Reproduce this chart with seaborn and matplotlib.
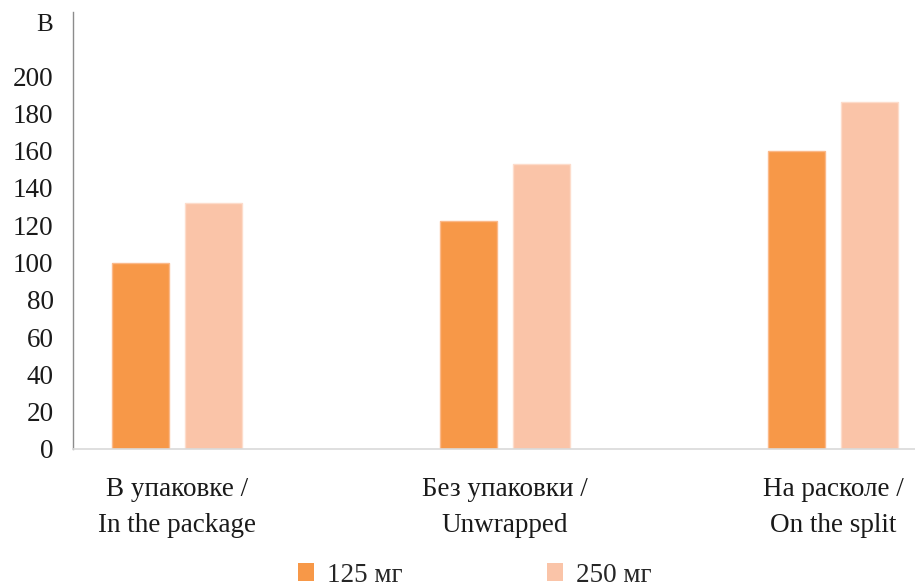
import matplotlib
matplotlib.use("Agg")
import matplotlib.pyplot as plt
import seaborn as sns
import pandas as pd
from matplotlib.patches import Patch

# Storage condition categories (two-line labels) and series values
categories = ["В упаковке /\nIn the package",
              "Без упаковки /\nUnwrapped",
              "На расколе /\nOn the split"]
series_names = ["125 мг", "250 мг"]
values_125 = [100, 122, 160]
values_250 = [132, 153, 186]
y_ticks = [0, 20, 40, 60, 80, 100, 120, 140, 160, 180, 200]
panel_label = "B"

colors = ["#F79848", "#FAC4A8"]
edge_colors = ["#FBB98A", "#FDDCCB"]

df = pd.DataFrame({
    "category": categories * 2,
    "dose": [series_names[0]] * 3 + [series_names[1]] * 3,
    "value": values_125 + values_250,
})

sns.set_theme(style="white")
plt.rcParams["font.family"] = ["Liberation Serif", "DejaVu Serif"]

FS = 19.5
fig = plt.figure(figsize=(9.15, 5.87), dpi=100)
ax = fig.add_axes([73 / 915, (587 - 449) / 587, 1 - 73 / 915, (449 - 12) / 587])

sns.barplot(data=df, x="category", y="value", hue="dose",
            palette=colors, width=0.44, gap=0.21, ax=ax,
            legend=False, errorbar=None, saturation=1)

for i, cont in enumerate(ax.containers):
    for bar in cont:
        bar.set_edgecolor(edge_colors[i])
        bar.set_linewidth(1.0)

ax.set_xlim(-0.317, 2.25)
ax.set_ylim(0, (449 - 12) / 1.865)
ax.set_yticks(y_ticks)
ax.set_yticklabels([str(t) for t in y_ticks], fontsize=FS, color="#1a1a1a")
ax.tick_params(axis="y", length=0, pad=14)
ax.tick_params(axis="x", length=0, pad=20, labelsize=FS, labelcolor="#1a1a1a")
for lab in ax.get_xticklabels():
    lab.set_linespacing(1.6)
ax.set_xlabel("")
ax.set_ylabel("")

for side in ["top", "right"]:
    ax.spines[side].set_visible(False)
ax.spines["left"].set_color("#8c8c8c")
ax.spines["left"].set_linewidth(1.0)
ax.spines["bottom"].set_color("#d9d9d9")
ax.spines["bottom"].set_linewidth(1.2)

fig.text(53 / 915, 1 - 25 / 587, panel_label, fontsize=18, ha="right",
         va="center", color="#1a1a1a")

handles = [Patch(facecolor=c, edgecolor="none") for c in colors]
fig.legend(handles, series_names, loc="center", ncol=2,
           bbox_to_anchor=(0.519, 1 - 575 / 587), frameon=False,
           fontsize=FS, handlelength=0.6, handleheight=0.6,
           handletextpad=0.5, columnspacing=5.3)

fig.savefig("out.png", dpi=100)
